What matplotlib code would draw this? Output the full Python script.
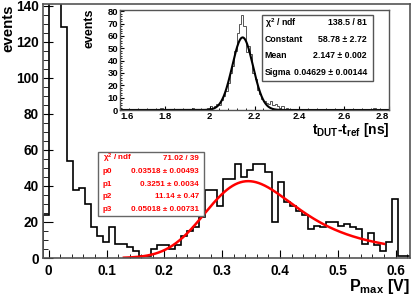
import numpy as np
import matplotlib
matplotlib.use("Agg")
import matplotlib.pyplot as plt
from matplotlib.ticker import MultipleLocator, FixedLocator, FixedFormatter
from matplotlib.patches import Rectangle

# ---------------- data ----------------
pmax_bin_width = 0.625 / 60
pmax_first_edge = -pmax_bin_width
pmax_counts = [24, 400, 160, 128, 54, 38, 39, 30, 17, 12, 9, 17, 8, 8, 6, 4,
               1, 1, 5, 7, 7, 5, 7, 12, 15, 17, 23, 38, 38, 29, 44, 44, 52, 45,
               49, 52, 52, 48, 20, 42, 31, 29, 26, 24, 16, 18, 17, 20, 20, 18,
               19, 17, 16, 8, 14, 7, 4, 9, 33, 1, 1]
fit_params = [0.03518, 0.3251, 11.14, 0.05018]   # langaus p0..p3
fit_range = [0.13, 0.58]
x_ticks = [0, 0.1, 0.2, 0.3, 0.4, 0.5, 0.6]
x_tick_labels = ["0", "0.1", "0.2", "0.3", "0.4", "0.5", "0.6"]
y_ticks = [0, 20, 40, 60, 80, 100, 120, 140]

dt_first_edge = 1.6
dt_bin_width = 0.01
dt_counts = [0, 0, 0, 1, 0, 0, 0, 0, 1, 0,
             0, 0, 1, 0, 0, 0, 1, 0, 2, 1,
             0, 1, 0, 1, 0, 1, 0, 0, 0, 0,
             0, 0, 2, 0, 0, 1, 0, 1, 0, 2,
             3, 2, 3, 5, 4, 8, 11, 15, 22, 30,
             36, 48, 62, 70, 77, 68, 47, 52, 45, 30,
             25, 16, 13, 9, 7, 6, 5, 7, 4, 5,
             3, 2, 3, 1, 2, 1, 0, 0, 1, 0,
             0, 0, 1, 0, 0, 1, 0, 0, 0, 0,
             1, 0, 0, 0, 0, 1, 0, 0, 0, 0,
             1, 0, 0, 1, 0, 0, 0, 0, 0, 0,
             1, 0, 0, 2, 0, 0, 0, 0, 1, 0]
gaus_params = [58.78, 2.147, 0.04629]
inset_x_ticks = [1.6, 1.8, 2.0, 2.2, 2.4, 2.6, 2.8]
inset_x_labels = ["1.6", "1.8", "2", "2.2", "2.4", "2.6", "2.8"]
inset_y_ticks = [0, 10, 20, 30, 40, 50, 60, 70, 80]

main_stats_labels = ["χ$^{2}$ / ndf", "p0", "p1", "p2", "p3"]
main_stats_values = ["71.02 / 39", "0.03518 ± 0.00493", "0.3251 ± 0.0034",
                     "11.14 ± 0.47", "0.05018 ± 0.00731"]
inset_stats_labels = ["χ$^{2}$ / ndf", "Constant", "Mean", "Sigma"]
inset_stats_values = ["138.5 / 81", "58.78 ± 2.72", "2.147 ± 0.002",
                      "0.04629 ± 0.00144"]

# ---------------- style ----------------
plt.rcParams['font.family'] = ['Liberation Sans', 'DejaVu Sans']
plt.rcParams['font.weight'] = 'bold'
plt.rcParams['mathtext.fontset'] = 'custom'
plt.rcParams['mathtext.rm'] = 'Liberation Sans:bold'
plt.rcParams['mathtext.it'] = 'Liberation Sans:bold'
plt.rcParams['mathtext.bf'] = 'Liberation Sans:bold'

W, H = 415, 300
fig = plt.figure(figsize=(W / 100, H / 100), dpi=100)


def fx(px):
    return px / W


def fy(py):
    return 1 - py / H


# ---------------- langaus ----------------
def landau_density(lam):
    lam = np.atleast_1d(lam).astype(float)
    out = np.zeros_like(lam)
    ok = lam > -5
    l = lam[ok][:, None]
    c = np.exp(-l - 1.0)
    y = np.linspace(0.0, 40.0, 4001)[None, :]
    s = c + 1j * y
    integrand = np.exp(s * np.log(s) + l * s).real
    out[ok] = np.trapezoid(integrand, dx=0.01, axis=1) / np.pi
    return out


lam_grid = np.linspace(-5, 25, 700)
den_grid = landau_density(lam_grid)
p0, p1, p2, p3 = fit_params
mpc = p1 + 0.22278298 * p0
x_fit = np.linspace(fit_range[0], fit_range[1], 300)
xx = x_fit[:, None] + np.linspace(-5 * p3, 5 * p3, 301)[None, :]
fland = np.interp((xx - mpc) / p0, lam_grid, den_grid, left=0, right=0) / p0
g = np.exp(-0.5 * ((x_fit[:, None] - xx) / p3) ** 2) / (np.sqrt(2 * np.pi) * p3)
y_fit = p2 * np.trapezoid(fland * g, xx, axis=1)

# ---------------- main axes ----------------
ax = fig.add_axes([fx(42.7), fy(258), fx(410) - fx(42.7), fy(4) - fy(258)])
edges = pmax_first_edge + pmax_bin_width * np.arange(len(pmax_counts) + 1)
ax.stairs(pmax_counts, edges, color='black', lw=1.2)
ax.plot(x_fit, y_fit, color='red', lw=1.8)
ax.set_xlim(edges[0], 0.625)
ax.set_ylim(0, 141)
ax.xaxis.set_major_locator(FixedLocator(x_ticks))
ax.xaxis.set_major_formatter(FixedFormatter(x_tick_labels))
ax.xaxis.set_minor_locator(MultipleLocator(0.02))
ax.yaxis.set_major_locator(FixedLocator(y_ticks))
ax.yaxis.set_minor_locator(MultipleLocator(5))
ax.tick_params(direction='in', which='both', labelsize=9.8, colors='black')
ax.xaxis.set_tick_params(which='major', length=5.5, pad=4)
ax.xaxis.set_tick_params(which='minor', length=2.8)
ax.yaxis.set_tick_params(which='major', length=7.5, pad=3)
ax.yaxis.set_tick_params(which='minor', length=3.8)
for sp in ax.spines.values():
    sp.set_color('#555555')
    sp.set_linewidth(1.2)

fig.text(fx(8), fy(4), "events", rotation=90, ha='center', va='top',
         fontsize=10.8, weight='bold')
fig.text(fx(410), fy(287), r"P$_{\rm max}$ [V]", ha='right', va='center',
         fontsize=11.5, weight='bold')

# main stats box (red)
fig.patches.append(Rectangle((fx(97.7), fy(216)), fx(204) - fx(97.7), fy(152.3) - fy(216),
                             transform=fig.transFigure, facecolor='white',
                             edgecolor='#666666', lw=1.0, zorder=5))
row_y = [158.6, 171.3, 184, 196.7, 209.4]
for lab, val, ry in zip(main_stats_labels, main_stats_values, row_y):
    fig.text(fx(103), fy(ry), lab, ha='left', va='center', color='red',
             fontsize=5.8, weight='bold', zorder=6)
    fig.text(fx(199), fy(ry), val, ha='right', va='center', color='red',
             fontsize=5.8, weight='bold', zorder=6)

# ---------------- inset ----------------
axi = fig.add_axes([fx(120), fy(110), fx(389) - fx(120), fy(10) - fy(110)])
axi.set_facecolor('white')
dedges = dt_first_edge + dt_bin_width * np.arange(len(dt_counts) + 1)
axi.stairs(dt_counts, dedges, color='#555555', lw=0.7)
xg = np.linspace(1.6, 2.8, 600)
axi.plot(xg, gaus_params[0] * np.exp(-0.5 * ((xg - gaus_params[1]) / gaus_params[2]) ** 2),
         color='black', lw=1.5)
axi.set_xlim(1.6, 2.8)
axi.set_ylim(0, 81)
axi.xaxis.set_major_locator(FixedLocator(inset_x_ticks))
axi.xaxis.set_major_formatter(FixedFormatter(inset_x_labels))
axi.xaxis.set_minor_locator(MultipleLocator(0.04))
axi.yaxis.set_major_locator(FixedLocator(inset_y_ticks))
axi.yaxis.set_minor_locator(MultipleLocator(2))
axi.tick_params(direction='in', which='both', labelsize=6.8)
axi.xaxis.set_tick_params(pad=1.2)
axi.yaxis.set_tick_params(pad=1.5)
axi.tick_params(which='major', length=3)
axi.tick_params(which='minor', length=1.5)
for sp in axi.spines.values():
    sp.set_color('#555555')
    sp.set_linewidth(1.0)
fig.canvas.draw()
xlabels = axi.get_xticklabels()
xlabels[0].set_horizontalalignment('left')
xlabels[-1].set_horizontalalignment('right')

fig.text(fx(89), fy(9), "events", rotation=90, ha='center', va='top',
         fontsize=9, weight='bold')
fig.text(fx(390), fy(130), r"t$_{\rm DUT}$-t$_{\rm ref}$ [ns]", ha='right', va='center',
         fontsize=10, weight='bold')

fig.patches.append(Rectangle((fx(261.7), fy(81)), fx(372.7) - fx(261.7), fy(15) - fy(81),
                             transform=fig.transFigure, facecolor='white',
                             edgecolor='#555555', lw=1.0, zorder=5))
irow_y = [22.7, 39.3, 55.7, 72.7]
for lab, val, ry in zip(inset_stats_labels, inset_stats_values, irow_y):
    fig.text(fx(264.5), fy(ry), lab, ha='left', va='center', color='black',
             fontsize=6.3, weight='bold', zorder=6)
    fig.text(fx(367), fy(ry), val, ha='right', va='center', color='black',
             fontsize=6.3, weight='bold', zorder=6)

fig.savefig("out.png", dpi=100)
